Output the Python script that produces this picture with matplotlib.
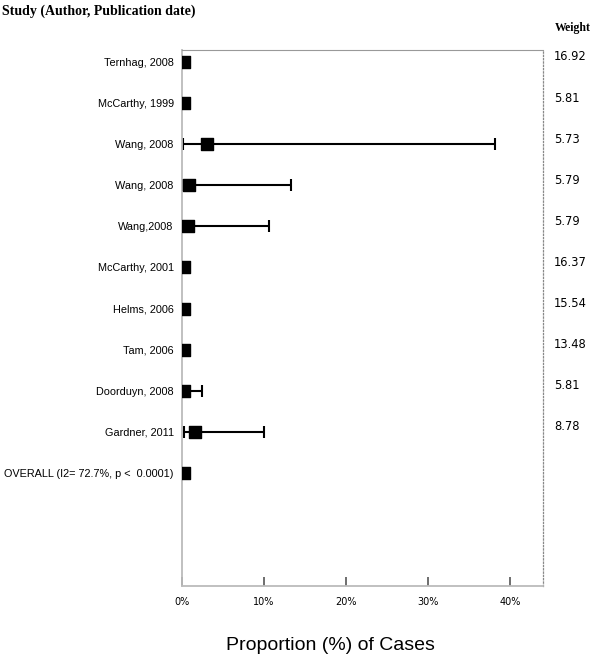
import matplotlib.pyplot as plt

studies = ["Ternhag, 2008", "McCarthy, 1999", "Wang, 2008", "Wang, 2008", "Wang,2008",
           "McCarthy, 2001", "Helms, 2006", "Tam, 2006", "Doorduyn, 2008", "Gardner, 2011",
           "OVERALL (I2= 72.7%, p <  0.0001)"]
est = [0.3, 0.3, 3.0, 0.9, 0.7, 0.3, 0.3, 0.3, 0.3, 1.6, 0.3]
lo = [0.3, 0.3, 0.1, 0.1, 0.1, 0.3, 0.3, 0.3, 0.1, 0.2, 0.3]
hi = [0.3, 0.3, 38.2, 13.3, 10.6, 0.3, 0.3, 0.3, 2.4, 10.0, 0.3]
weights = ["16.92", "5.81", "5.73", "5.79", "5.79", "16.37", "15.54", "13.48", "5.81", "8.78", ""]
ticks = [0, 10, 20, 30, 40]

fig = plt.figure(figsize=(6, 6.62), dpi=100)
ax = fig.add_axes([182/600, 1 - 586/662, 361/600, 536/662])

rows = list(range(len(studies)))

# only rows with a real interval get whiskers
for i in rows:
    if hi[i] - lo[i] > 0.5:
        ax.errorbar([est[i]], [i], xerr=[[est[i] - lo[i]], [hi[i] - est[i]]],
                    fmt='none', ecolor='black', elinewidth=1.5, capsize=4, capthick=1.5)
ax.scatter(est, rows, marker='s', s=68, color='black', zorder=3)

ax.set_xlim(0, 44)
ax.set_ylim(12.75, -0.29)

ax.set_yticks(rows)
ax.set_yticklabels(studies, fontsize=7.8, family='Liberation Sans')
ax.tick_params(axis='y', length=0, pad=6)

ax.set_xticks(ticks)
ax.set_xticklabels([f"{t}%" for t in ticks], fontsize=7, family='DejaVu Sans')
ax.tick_params(axis='x', direction='in', length=6.5, width=1.2, color='#555555', pad=8)

for s in ['left', 'bottom']:
    ax.spines[s].set_color('#bbbbbb')
    ax.spines[s].set_linewidth(1.3)
ax.spines['top'].set_color('#999999')
ax.spines['top'].set_linewidth(0.8)
ax.spines['right'].set_color('#888888')
ax.spines['right'].set_linewidth(0.9)
ax.spines['right'].set_linestyle(':')

for i in rows:
    ax.text(1.03, i - 0.12, weights[i], transform=ax.get_yaxis_transform(),
            fontsize=8.3, family='DejaVu Sans', ha='left', va='center')

fig.text(555/600, 1 - 28/662, "Weight", fontsize=8.5, family='Liberation Serif',
         weight='bold', ha='left', va='center')
fig.text(2/600, 1 - 11/662, "Study (Author, Publication date)", fontsize=10,
         family='Liberation Serif', weight='bold', ha='left', va='center')
fig.text(330/600, 1 - 646/662, "Proportion (%) of Cases", fontsize=14,
         family='Liberation Sans', ha='center', va='center')

fig.savefig("out.png", dpi=100)
